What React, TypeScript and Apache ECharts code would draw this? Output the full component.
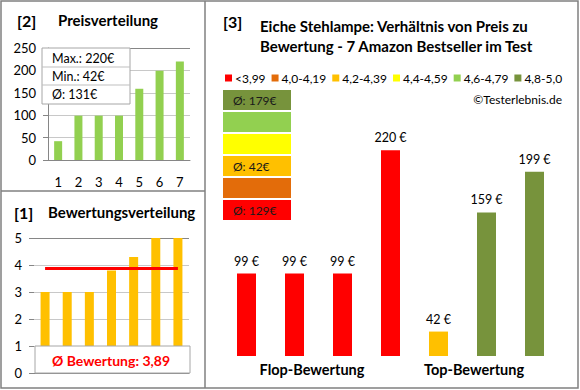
import React, { useEffect, useRef } from 'react';
import * as echarts from 'echarts';

const FONT = 'Lato, "Open Sans", sans-serif';

// Panel [2] Preisverteilung
const priceCats = ['1', '2', '3', '4', '5', '6', '7'];
const prices = [42, 99, 99, 99, 159, 199, 220];
const priceStats = ['Max.: 220€', 'Min.: 42€', 'Ø: 131€'];
const priceTicks = [0, 50, 100, 150, 200, 250];

// Panel [1] Bewertungsverteilung
const ratingCats = ['1', '2', '3', '4', '5', '6', '7'];
const ratings = [3.0, 3.0, 3.0, 3.8, 4.3, 5.0, 5.0];
const avgRating = 3.89;
const avgRatingText = 'Ø Bewertung: 3,89';
const ratingTicks = [0, 1, 2, 3, 4, 5];

// Panel [3]
const mainCats = ['p1', 'p2', 'p3', 'p4', 'p5', 'p6', 'p7'];
const mainPrices = [99, 99, 99, 220, 42, 159, 199];
const mainColors = ['#FF0000', '#FF0000', '#FF0000', '#FF0000', '#FFC000', '#77933C', '#77933C'];
const legendNames = ['<3,99', '4,0-4,19', '4,2-4,39', '4,4-4,59', '4,6-4,79', '4,8-5,0'];
const legendColors = ['#FF0000', '#E36C0A', '#FFC000', '#FFFF00', '#92D050', '#77933C'];
const boxTexts = ['Ø: 179€', '', '', 'Ø: 42€', '', 'Ø: 129€']; // top to bottom (4,8-5,0 ... <3,99)
const groupLabels = ['Flop-Bewertung', 'Top-Bewertung'];

const MAJOR = '#868686';
const MINOR = '#C8C8C8';
const minorCycle = [MAJOR, MINOR, MINOR, MINOR, MINOR];

function txt(text: string, x: number, y: number, size: number, opts: any = {}) {
  return {
    type: 'text',
    x,
    y,
    z: 100,
    style: {
      text,
      fill: opts.fill || '#000',
      font: `${opts.bold ? 'bold ' : ''}${size}px ${FONT}`,
      align: opts.align || 'left',
      verticalAlign: 'middle',
    },
  };
}

function buildOption() {
  const graphics: any[] = [];
  // frames
  graphics.push({ type: 'rect', z: 100, shape: { x: 1, y: 1, width: 577, height: 387 }, style: { fill: 'none', stroke: '#808080', lineWidth: 1.5 } });
  graphics.push({ type: 'line', z: 100, shape: { x1: 205, y1: 1, x2: 205, y2: 388 }, style: { stroke: '#808080', lineWidth: 1.5 } });
  graphics.push({ type: 'line', z: 100, shape: { x1: 1, y1: 191, x2: 205, y2: 191 }, style: { stroke: '#808080', lineWidth: 1.5 } });

  // titles
  graphics.push(txt('[2]', 17, 20, 16, { bold: true }));
  graphics.push(txt('Preisverteilung', 58, 20, 15, { bold: true }));
  graphics.push(txt('[1]', 14, 212, 16, { bold: true }));
  graphics.push(txt('Bewertungsverteilung', 48, 212, 15, { bold: true }));
  graphics.push(txt('[3]', 223, 21, 16, { bold: true }));
  graphics.push(txt('Eiche Stehlampe: Verhältnis von Preis zu', 260, 26, 15, { bold: true }));
  graphics.push(txt('Bewertung - 7 Amazon Bestseller im Test', 260, 46, 15, { bold: true }));
  graphics.push(txt('©Testerlebnis.de', 562, 99, 12, { align: 'right' }));

  // stats box (panel 2)
  graphics.push({ type: 'rect', z: 90, shape: { x: 42, y: 48, width: 88, height: 56 }, style: { fill: '#fff', stroke: '#A6A6A6', lineWidth: 1 } });
  graphics.push({ type: 'line', z: 91, shape: { x1: 42, y1: 67, x2: 130, y2: 67 }, style: { stroke: '#BFBFBF', lineWidth: 1 } });
  graphics.push({ type: 'line', z: 91, shape: { x1: 42, y1: 85, x2: 130, y2: 85 }, style: { stroke: '#BFBFBF', lineWidth: 1 } });
  priceStats.forEach((s, i) => graphics.push(txt(s, 52, 58 + i * 18, 12.5)));

  // rating avg box (panel 1)
  graphics.push({ type: 'rect', z: 90, shape: { x: 35, y: 346, width: 155, height: 27 }, style: { fill: '#fff', stroke: '#A6A6A6', lineWidth: 1 } });
  graphics.push(txt(avgRatingText, 111, 360, 14, { bold: true, fill: '#FF0000', align: 'center' }));

  // color boxes (panel 3)
  const boxColors = legendColors.slice().reverse();
  boxColors.forEach((c, i) => {
    const y = 90 + i * 22;
    graphics.push({ type: 'rect', z: 90, shape: { x: 223, y, width: 68, height: 20 }, style: { fill: c } });
    if (boxTexts[i]) graphics.push(txt(boxTexts[i], 233, y + 10, 12, { fill: '#1a1a1a' }));
  });

  graphics.push(txt(groupLabels[0], 312, 369, 14.5, { bold: true, align: 'center' }));
  graphics.push(txt(groupLabels[1], 474, 369, 14.5, { bold: true, align: 'center' }));

  const axisFont = { fontFamily: FONT, color: '#000' };

  return {
    animation: false,
    textStyle: { fontFamily: FONT },
    legend: {
      data: legendNames,
      left: 225,
      top: 72,
      icon: 'rect',
      itemWidth: 7,
      itemHeight: 7,
      itemGap: 6,
      padding: 0,
      textStyle: { fontSize: 12, fontFamily: FONT, color: '#000', padding: [0, 0, 0, -2] },
      selectedMode: false,
    },
    grid: [
      { left: 48, top: 48, width: 142, height: 112 },
      { left: 34, top: 238, width: 155, height: 135 },
      { left: 222.5, top: 130, width: 336, height: 226 },
    ],
    xAxis: [
      {
        gridIndex: 0,
        type: 'category',
        data: priceCats,
        axisLine: { lineStyle: { color: MAJOR } },
        axisTick: { show: false },
        axisLabel: { ...axisFont, fontSize: 13, margin: 15 },
      },
      {
        gridIndex: 1,
        type: 'category',
        data: ratingCats,
        axisLine: { lineStyle: { color: MAJOR } },
        axisTick: { show: false },
        axisLabel: { show: false },
      },
      {
        gridIndex: 2,
        type: 'category',
        data: mainCats,
        show: false,
      },
    ],
    yAxis: [
      {
        gridIndex: 0,
        type: 'value',
        min: 0,
        max: 250,
        interval: 10,
        axisLine: { show: true, lineStyle: { color: MAJOR } },
        axisTick: { show: true, length: 5, customValues: priceTicks, lineStyle: { color: MAJOR } },
        axisLabel: {
          ...axisFont,
          fontSize: 13,
          margin: 12,
          customValues: priceTicks,
          formatter: (v: number) => (Math.abs(v % 50) < 1e-6 ? String(v) : ''),
        },
        splitLine: { lineStyle: { color: minorCycle, width: 1 } },
      },
      {
        gridIndex: 1,
        type: 'value',
        min: 0,
        max: 5,
        interval: 0.2,
        axisLine: { show: false },
        axisTick: { show: true, length: 5, customValues: ratingTicks, lineStyle: { color: MAJOR } },
        axisLabel: {
          ...axisFont,
          fontSize: 13,
          margin: 12,
          customValues: ratingTicks,
          formatter: (v: number) => (Math.abs(v - Math.round(v)) < 1e-6 ? String(Math.round(v)) : ''),
        },
        splitLine: { lineStyle: { color: minorCycle, width: 1 } },
      },
      {
        gridIndex: 2,
        type: 'value',
        min: 18,
        max: 240,
        show: false,
        splitLine: { show: false },
      },
    ],
    series: [
      {
        type: 'bar',
        xAxisIndex: 0,
        yAxisIndex: 0,
        data: prices,
        barWidth: 8,
        itemStyle: { color: '#92D050' },
        z: 3,
      },
      {
        type: 'bar',
        xAxisIndex: 1,
        yAxisIndex: 1,
        data: ratings,
        barWidth: 9,
        itemStyle: { color: '#FFC000' },
        z: 3,
        markLine: {
          silent: true,
          symbol: 'none',
          label: { show: false },
          lineStyle: { color: '#FF0000', width: 3, type: 'solid' },
          data: [[{ coord: [0, avgRating] }, { coord: [6, avgRating] }]],
        },
      },
      {
        type: 'bar',
        xAxisIndex: 2,
        yAxisIndex: 2,
        barWidth: 19,
        data: mainPrices.map((v, i) => ({ value: v, itemStyle: { color: mainColors[i] } })),
        label: {
          show: true,
          position: 'top',
          distance: 6,
          formatter: '{c} €',
          fontSize: 12.5,
          fontFamily: FONT,
          color: '#000',
        },
        z: 3,
      },
      ...legendNames.map((n, i) => ({
        type: 'line',
        name: n,
        xAxisIndex: 2,
        yAxisIndex: 2,
        data: [],
        color: legendColors[i],
        itemStyle: { color: legendColors[i] },
      })),
    ],
    graphic: { elements: graphics },
  };
}

export default function App() {
  const ref = useRef<HTMLDivElement>(null);
  useEffect(() => {
    document.body.style.margin = '0';
    const chart = echarts.init(ref.current!, null, { renderer: 'svg' });
    chart.setOption(buildOption() as any);
    return () => chart.dispose();
  }, []);
  return <div ref={ref} style={{ width: 580, height: 390, background: '#fff' }} />;
}
